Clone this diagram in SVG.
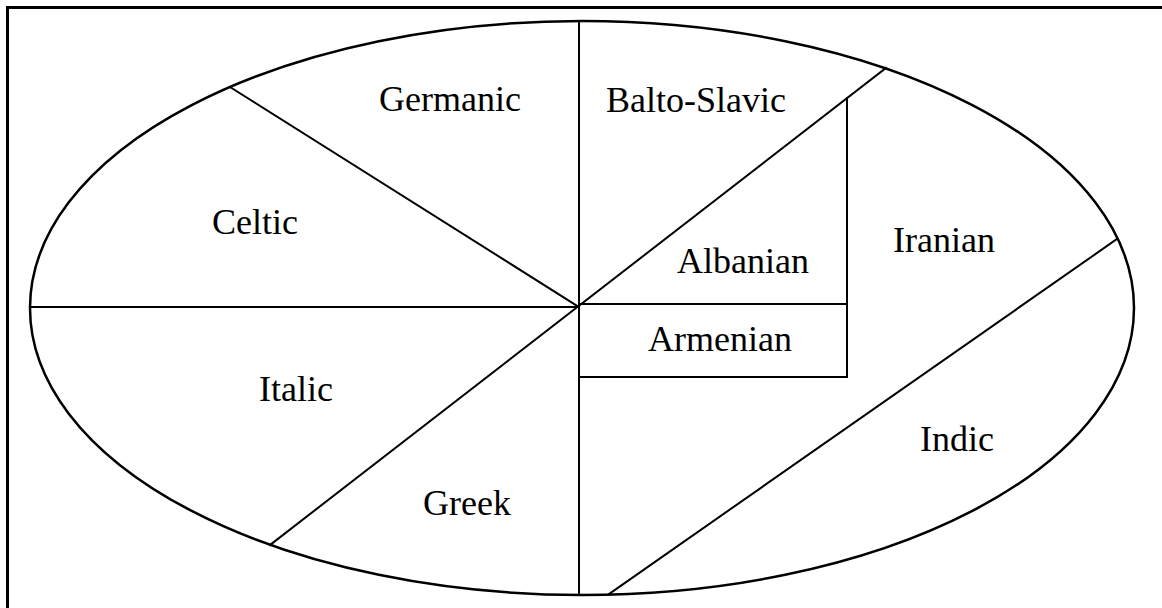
<svg xmlns="http://www.w3.org/2000/svg" width="1162" height="608" viewBox="0 0 1162 608">
<style>
.ln{stroke:#000;stroke-width:2;fill:none;stroke-linecap:square}
text{font-family:"Liberation Serif",serif;font-size:36px;fill:#000}
</style>
<rect x="0" y="0" width="1162" height="608" fill="#fff"/>
<rect x="7.5" y="7.5" width="1170" height="620" fill="none" stroke="#000" stroke-width="3"/>
<ellipse id="outline" cx="582" cy="308" rx="552" ry="287" fill="none" stroke="#000" stroke-width="2.5"/>
<g id="connectors">
<line class="ln" x1="579" y1="21" x2="579" y2="595"/>
<line class="ln" x1="30" y1="307" x2="579" y2="307"/>
<line class="ln" x1="230" y1="87" x2="579" y2="307"/>
<line class="ln" x1="886" y1="68" x2="270" y2="545"/>
<line class="ln" x1="579" y1="304" x2="847" y2="304"/>
<line class="ln" x1="847" y1="98" x2="847" y2="377"/>
<line class="ln" x1="579" y1="377" x2="847" y2="377"/>
<line class="ln" x1="1117" y1="239" x2="609" y2="594"/>
</g>
<g id="germanic"><text x="379" y="111">Germanic</text></g>
<g id="balto-slavic"><text x="606" y="112">Balto-Slavic</text></g>
<g id="celtic"><text x="212" y="234">Celtic</text></g>
<g id="albanian"><text x="677" y="273">Albanian</text></g>
<g id="iranian"><text x="893" y="252">Iranian</text></g>
<g id="armenian"><text x="648" y="351">Armenian</text></g>
<g id="italic"><text x="259" y="401">Italic</text></g>
<g id="indic"><text x="920" y="451">Indic</text></g>
<g id="greek"><text x="423" y="515">Greek</text></g>
</svg>
